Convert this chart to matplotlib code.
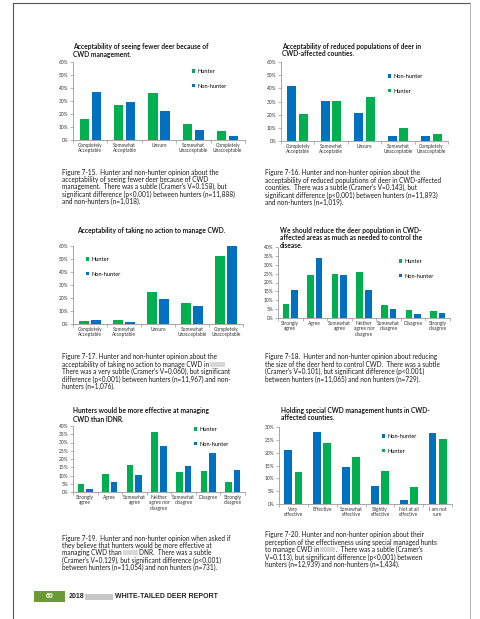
import numpy as np
import matplotlib.pyplot as plt
import matplotlib.patches as patches
from matplotlib.ticker import MultipleLocator, FuncFormatter

plt.rcParams['font.family'] = ['Lato', 'DejaVu Sans']

W, H = 481, 619
GREEN = '#00b050'
BLUE = '#0070c0'
TXT = '#333333'

# categories
cats_accept = ["Completely\nAcceptable", "Somewhat\nAcceptable", "Unsure",
               "Somewhat\nUnacceptable", "Completely\nUnacceptable"]
cats_agree = ["Strongly\nagree", "Agree", "Somewhat\nagree", "Neither\nagree nor\ndisagree",
              "Somewhat\ndisagree", "Disagree", "Strongly\ndisagree"]
cats_effect = ["Very\neffective", "Effective", "Somewhat\neffective", "Slightly\neffective",
               "Not at all\neffective", "I am not\nsure"]

# values (%)
fewer_hunter = [16, 27, 36.5, 12.5, 7]
fewer_nonhunter = [37, 29, 22.5, 7.5, 3]
reduced_nonhunter = [41.5, 30.5, 21, 4, 3.5]
reduced_hunter = [20.5, 30.5, 33.5, 10, 5.5]
noaction_hunter = [2.2, 2.8, 25, 16, 52.5]
noaction_nonhunter = [3.3, 1.3, 19.3, 14.2, 60]
reduce_hunter = [8, 24.5, 25, 26, 7.5, 4.3, 3.8]
reduce_nonhunter = [16, 34, 24.5, 16, 4.8, 2.1, 2.6]
better_hunter = [5, 11, 16.5, 36.5, 12, 12.5, 5.8]
better_nonhunter = [1.8, 6, 10.5, 28, 16, 23.8, 13.4]
hunts_nonhunter = [21, 28, 14.5, 7, 1.5, 27.7]
hunts_hunter = [12.5, 23.8, 18.5, 13, 6.6, 25.2]

fig = plt.figure(figsize=(W / 100, H / 100), dpi=100)
fig.patch.set_facecolor('white')


def fx(x):
    return x / W


def fy(y):
    return 1 - y / H


def px_axes(x0, y0, x1, y1):
    return fig.add_axes([fx(x0), fy(y1), (x1 - x0) / W, (y1 - y0) / H])


def bar_chart(box, cats, s1, s2, ymax, ystep, legend_xy):
    ax = px_axes(*box)
    x = np.arange(len(cats))
    w = 0.27
    off = 0.175
    (v1, c1, l1), (v2, c2, l2) = s1, s2
    ax.bar(x - off, v1, w, color=c1, label=l1)
    ax.bar(x + off, v2, w, color=c2, label=l2)
    ax.set_xlim(-0.5, len(cats) - 0.5)
    ax.set_ylim(0, ymax)
    ax.yaxis.set_major_locator(MultipleLocator(ystep))
    ax.yaxis.set_major_formatter(FuncFormatter(lambda v, p: '%d%%' % v))
    ax.set_xticks(x)
    ax.set_xticklabels(cats, fontsize=3.5, color=TXT, linespacing=1.15)
    ax.set_xticks(np.arange(-0.5, len(cats), 1), minor=True)
    ax.tick_params(axis='x', which='major', length=0, pad=2)
    ax.tick_params(axis='x', which='minor', length=2, width=0.5, color='#999999')
    ax.tick_params(axis='y', labelsize=3.5, labelcolor=TXT, length=2, width=0.5,
                   color='#999999', pad=1.5)
    for s in ['top', 'right']:
        ax.spines[s].set_visible(False)
    for s in ['left', 'bottom']:
        ax.spines[s].set_color('#999999')
        ax.spines[s].set_linewidth(0.6)
    lx, ly = legend_xy
    ax.legend(loc='upper left', bbox_to_anchor=(fx(lx), fy(ly)),
              bbox_transform=fig.transFigure, frameon=False, fontsize=4.1,
              handlelength=0.6, handleheight=0.6, handletextpad=0.3,
              labelspacing=1.7, borderpad=0, borderaxespad=0)
    return ax


def title(x, y, lines):
    for i, t in enumerate(lines):
        fig.text(fx(x), fy(y + i * 8), t, fontsize=4.8, fontweight='bold',
                 color='#1a1a1a', va='center', ha='left')


renderer = fig.canvas.get_renderer()


def caption(x, y, lines):
    for i, line in enumerate(lines):
        yy = fy(y + i * 7.4)
        parts = line.split('{R}')
        cx = fx(x)
        for j, part in enumerate(parts):
            if j > 0:
                # blurred-out word
                fig.patches.append(patches.Rectangle(
                    (cx + 1 / W, yy - 2.3 / H), 15 / W, 4.6 / H,
                    transform=fig.transFigure, color='#d8d8d8', lw=0))
                cx += 17 / W
            t = fig.text(cx, yy, part, fontsize=4.7, color='#1a1a1a',
                         va='center', ha='left')
            bb = t.get_window_extent(renderer)
            cx = bb.x1 / fig.bbox.width


# chart 1
title(73, 46, ["Acceptability of seeing fewer deer because of", "CWD management."])
bar_chart((73, 62, 245, 140), cats_accept,
          (fewer_hunter, GREEN, 'Hunter'), (fewer_nonhunter, BLUE, 'Non-hunter'), 60, 10, (192, 69))
caption(62, 172, ["Figure 7-15.  Hunter and non-hunter opinion about the",
                  "acceptability of seeing fewer deer because of CWD",
                  "management.  There was a subtle (Cramer's V=0.158), but",
                  "significant difference (p<0.001) between hunters (n=11,888)",
                  "and non-hunters (n=1,018)."])

# chart 2
title(282, 46, ["Acceptability of reduced populations of deer in", "CWD-affected counties."])
bar_chart((281, 62, 448, 141), cats_accept,
          (reduced_nonhunter, BLUE, 'Non-hunter'), (reduced_hunter, GREEN, 'Hunter'), 60, 10, (388, 74))
caption(265, 173, ["Figure 7-16. Hunter and non-hunter opinion about the",
                   "acceptability of reduced populations of deer in CWD-affected",
                   "counties.  There was a subtle (Cramer's V=0.143), but",
                   "significant difference (p<0.001) between hunters (n=11,893)",
                   "and non-hunters (n=1,019)."])

# chart 3
title(77, 231, ["Acceptability of taking no action to manage CWD."])
bar_chart((73, 246, 243, 324), cats_accept,
          (noaction_hunter, GREEN, 'Hunter'), (noaction_nonhunter, BLUE, 'Non-hunter'), 60, 10, (86, 257))
caption(62, 357, ["Figure 7-17. Hunter and non-hunter opinion about the",
                  "acceptability of taking no action to manage CWD in{R}",
                  "There was a very subtle (Cramer's V=0.060), but significant",
                  "difference (p<0.001) between hunters (n=11,967) and non-",
                  "hunters (n=1,076)."])

# chart 4
title(280, 230, ["We should reduce the deer population in CWD-",
                 "affected areas as much as needed to control the", "disease."])
bar_chart((278, 247, 450, 318), cats_agree,
          (reduce_hunter, GREEN, 'Hunter'), (reduce_nonhunter, BLUE, 'Non-hunter'), 40, 5, (399, 259))
caption(265, 357, ["Figure 7-18.  Hunter and non-hunter opinion about reducing",
                   "the size of the deer herd to control CWD.  There was a subtle",
                   "(Cramer's V=0.101), but significant difference (p<0.001)",
                   "between hunters (n=11,065) and non hunters (n=729)."])

# chart 5
title(73, 411, ["Hunters would be more effective at managing", "CWD than IDNR."])
bar_chart((73, 426, 245, 492), cats_agree,
          (better_hunter, GREEN, 'Hunter'), (better_nonhunter, BLUE, 'Non-hunter'), 40, 5, (194, 427))
caption(62, 538, ["Figure 7-19.  Hunter and non-hunter opinion when asked if",
                  "they believe that hunters would be more effective at",
                  "managing CWD than{R}DNR.  There was a subtle",
                  "(Cramer's V=0.129), but significant difference (p<0.001)",
                  "between hunters (n=11,054) and non hunters (n=731)."])

# chart 6
title(281, 410, ["Holding special CWD management hunts in CWD-", "affected counties."])
bar_chart((279, 427, 452, 504), cats_effect,
          (hunts_nonhunter, BLUE, 'Non-hunter'), (hunts_hunter, GREEN, 'Hunter'), 30, 5, (382, 434))
caption(265, 535, ["Figure 7-20. Hunter and non-hunter opinion about their",
                   "perception of the effectiveness using special managed hunts",
                   "to manage CWD in{R}.  There was a subtle (Cramer's",
                   "V=0.113), but significant difference (p<0.001) between",
                   "hunters (n=12,939) and non-hunters (n=1,434)."])

# page border
fig.add_artist(plt.Line2D([fx(13), fx(13)], [fy(3), 0], transform=fig.transFigure,
                          color='#555555', lw=0.8))
fig.add_artist(plt.Line2D([fx(13), fx(470)], [fy(3), fy(3)], transform=fig.transFigure,
                          color='#555555', lw=0.8))
fig.add_artist(plt.Line2D([fx(470), fx(470)], [fy(3), 0], transform=fig.transFigure,
                          color='#aaaaaa', lw=0.6))

# footer
fig.patches.append(patches.Rectangle((fx(34), fy(602)), 31 / W, 11 / H,
                                     transform=fig.transFigure, color='#6b9a34', lw=0))
fig.text(fx(49.5), fy(596.5), '60', fontsize=5, color='white', fontweight='bold',
         ha='center', va='center', family='Liberation Sans')
fig.text(fx(69), fy(596.5), '2018', fontsize=5, color='#222222', fontweight='bold',
         ha='left', va='center', family='Liberation Sans')
fig.patches.append(patches.Rectangle((fx(85), fy(599.5)), 28 / W, 6 / H,
                                     transform=fig.transFigure, color='#c8c8c8', lw=0))
fig.text(fx(115), fy(596.5), 'WHITE-TAILED DEER REPORT', fontsize=5, color='#222222',
         fontweight='bold', ha='left', va='center', family='Liberation Sans')

fig.savefig('out.png', dpi=100)
